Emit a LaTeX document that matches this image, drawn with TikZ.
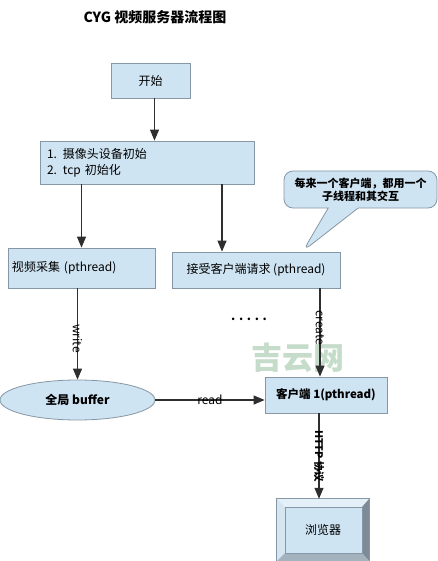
\documentclass[tikz,border=0pt]{standalone}
\usepackage{fontspec}
\setmainfont{Noto Sans CJK SC}
\usetikzlibrary{shapes.geometric, shapes.callouts, arrows.meta, positioning, calc}

\definecolor{boxfill}{HTML}{CFE4F2}
\definecolor{boxline}{HTML}{8797A6}
\definecolor{wire}{HTML}{2E2E2E}
\definecolor{markgreen}{HTML}{C6DCCA}
\definecolor{bevellight}{HTML}{E4F0F8}
\definecolor{bevelside}{HTML}{D6E6F1}
\definecolor{beveldark}{HTML}{7E8B97}
\definecolor{bevelbottom}{HTML}{A4B2BE}

\begin{document}
\begin{tikzpicture}[
		x=1pt, y=-1pt,
		>={Triangle[length=11pt, width=9pt]},
		% styles
		block/.style={draw=boxline, fill=boxfill, rectangle, line width=0.8pt, minimum height=36pt, align=center, font=\fontsize{12}{16}\selectfont},
		pool/.style={draw=boxline, fill=boxfill, ellipse, line width=0.8pt, minimum width=155pt, minimum height=40pt, inner sep=0pt, font=\bfseries\fontsize{12}{14}\selectfont},
		bubble/.style={draw=boxline, fill=boxfill, rectangle callout, rounded corners=9pt, line width=0.8pt, align=center, font=\bfseries\fontsize{11}{13}\selectfont},
		line/.style={draw=wire, line width=1.2pt, ->},
		wirelabel/.style={font=\fontsize{12}{14}\selectfont, inner sep=1pt}
		]
		\useasboundingbox (0,0) rectangle (438,561);
		
		% --- NODES ---
		
		% title and watermark
		\node [font=\bfseries\fontsize{14}{16}\selectfont] (title) at (155,17) {CYG 视频服务器流程图};
		\node [font=\bfseries\fontsize{31}{31}\selectfont, text=markgreen] (mark) at (298,358) {吉云网};
		
		% main flow
		\node [block, minimum width=79pt, minimum height=35pt] (start) at (150.5,80.5) {开始};
		\node [block, minimum width=214pt, minimum height=43pt, text width=200pt, inner xsep=7pt, align=left] (init) at (147,162.5) {1. 摄像头设备初始\\2. tcp 初始化};
		\node [block, minimum width=147pt, minimum height=40pt, text width=139pt, inner xsep=4pt, align=left] (capture) at (81.5,268) {视频采集 (pthread)};
		\node [block, minimum width=168pt] (accept) at (256,270) {接受客户端请求 (pthread)};
		\node [bubble, minimum width=153pt, minimum height=37pt, callout absolute pointer={(303,251)}, callout pointer width=30pt] (note) at (360.5,189.5) {每来一个客户端，都用一个\\子线程和其交互};
		\node [pool] (buffer) at (77.5,400) {全局 buffer};
		\node [block, minimum width=122pt, font=\bfseries\fontsize{11.5}{14}\selectfont] (client) at (326,395) {客户端 1(pthread)};
		\node [font=\bfseries\fontsize{12}{14}\selectfont] (dots) at (249,319) {. . . . .};
		
		% browser (bevel box)
		\node [fill=boxfill, minimum width=92pt, minimum height=62pt, font=\fontsize{12}{14}\selectfont] (browser) at (323,530) {浏览器};
		\fill [bevellight] (browser.north west) -- (browser.north east) -- ([shift={(-7,8)}]browser.north east) -- ([shift={(8,8)}]browser.north west) -- cycle;
		\fill [bevelside] (browser.north west) -- ([shift={(8,8)}]browser.north west) -- ([shift={(8,-8)}]browser.south west) -- (browser.south west) -- cycle;
		\fill [beveldark] (browser.north east) -- (browser.south east) -- ([shift={(-7,-8)}]browser.south east) -- ([shift={(-7,8)}]browser.north east) -- cycle;
		\fill [bevelbottom] (browser.south west) -- ([shift={(8,-8)}]browser.south west) -- ([shift={(-7,-8)}]browser.south east) -- (browser.south east) -- cycle;
		\draw [boxline, line width=0.8pt] (browser.north west) rectangle (browser.south east);
		\draw [boxline, line width=0.6pt] ([shift={(8,8)}]browser.north west) rectangle ([shift={(-7,-8)}]browser.south east);
		
		% --- CONNECTORS ---
		\draw [line] ([xshift=4pt]start.south) -- ([xshift=4pt]start.south |- init.north);
		\draw [line] (init.south -| capture.north) -- (capture.north);
		\draw [line] ([xshift=-34pt]accept.north |- init.south) -- ([xshift=-34pt]accept.north);
		\draw [line] (capture.south -| buffer.north) -- node [wirelabel, rotate=-90, pos=0.55] {write} (buffer.north);
		\draw [line] (buffer.east) -- node [wirelabel] {read} (buffer.east -| client.west);
		\draw [line] ([xshift=-6pt]client.north |- accept.south) -- node [wirelabel, rotate=-90, pos=0.45] {create} ([xshift=-6pt]client.north);
		\draw [line] ([xshift=-4pt]browser.north |- client.south) -- node [wirelabel, rotate=-90, font=\bfseries\fontsize{10.5}{12}\selectfont] {HTTP 协议} ([xshift=-4pt]browser.north);
		
	\end{tikzpicture}
\end{document}
